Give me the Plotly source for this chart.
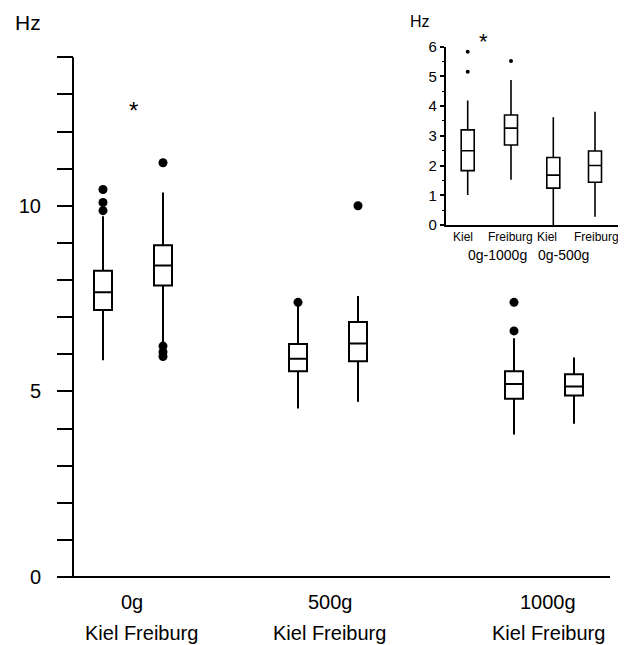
import plotly.graph_objects as go

# ---------------- data (main chart, Hz) ----------------
main_labels = ["0g Kiel", "0g Freiburg", "500g Kiel", "500g Freiburg", "1000g Kiel", "1000g Freiburg"]
main_q1 = [7.19, 7.85, 5.54, 5.81, 4.80, 4.89]
main_median = [7.67, 8.39, 5.88, 6.29, 5.20, 5.13]
main_q3 = [8.25, 8.94, 6.28, 6.87, 5.54, 5.46]
main_low = [5.84, 6.33, 4.54, 4.72, 3.84, 4.13]
main_high = [9.72, 10.36, 7.30, 7.57, 6.43, 5.91]
main_outliers = [[10.44, 10.09, 9.87], [11.16, 6.22, 6.06, 5.94], [7.40], [10.0], [7.40, 6.63], []]
main_groups = ["0g", "500g", "1000g"]
main_ytick_vals = list(range(0, 15))
main_ytick_text = ["0", "", "", "", "", "5", "", "", "", "", "10", "", "", "", ""]

# ---------------- data (inset, Hz) ----------------
inset_labels = ["Kiel", "Freiburg", "Kiel", "Freiburg"]
inset_groups = ["0g-1000g", "0g-500g"]
inset_q1 = [1.83, 2.69, 1.24, 1.44]
inset_median = [2.50, 3.26, 1.68, 2.00]
inset_q3 = [3.20, 3.70, 2.27, 2.49]
inset_low = [1.01, 1.52, 0.0, 0.28]
inset_high = [4.19, 4.88, 3.63, 3.81]
inset_outliers = [[5.83, 5.16], [5.52], [], []]
inset_ytick_vals = [0, 1, 2, 3, 4, 5, 6]

# ---------------- layout geometry (window pixels) ----------------
OFF = 8                                 # default page body margin
WIN_W, WIN_H = 626, 645
W, H = WIN_W - OFF, WIN_H - OFF
L, R, T, B = 70, 620, 40, 580           # plot area edges (window px)
AX0 = 73                                # main y-axis line x
Y0 = 577                                # main y = 0 pixel
PPU = 37.12                             # pixels per Hz (main)
main_pos = [30, 90, 225, 285, 441, 501] # px from main y-axis
main_box_w = 18
x_line_end = 537


def px(xp):
    return (xp - L) / (R - L)


def py(yp):
    return (B - yp) / (B - T)


in_left, in_right, in_bottom, in_top = 445.7, 620, 225, 46.7
inset_pos = [22, 65.3, 107.6, 149.3]
inset_box_w = 13
FONT = "Liberation Sans, Arial, sans-serif"

fig = go.Figure()

for i, name in enumerate(main_labels):
    fig.add_trace(go.Box(
        x=[main_pos[i]], q1=[main_q1[i]], median=[main_median[i]], q3=[main_q3[i]],
        lowerfence=[main_low[i]], upperfence=[main_high[i]],
        width=main_box_w, whiskerwidth=0, fillcolor="white",
        line=dict(color="black", width=2), boxpoints=False,
        name=name, showlegend=False, xaxis="x", yaxis="y", hoverinfo="skip"))
    if main_outliers[i]:
        fig.add_trace(go.Scatter(
            x=[main_pos[i]] * len(main_outliers[i]), y=main_outliers[i], mode="markers",
            marker=dict(color="black", size=9), showlegend=False, xaxis="x", yaxis="y",
            hoverinfo="skip"))

for i, name in enumerate(inset_labels):
    fig.add_trace(go.Box(
        x=[inset_pos[i]], q1=[inset_q1[i]], median=[inset_median[i]], q3=[inset_q3[i]],
        lowerfence=[inset_low[i]], upperfence=[inset_high[i]],
        width=inset_box_w, whiskerwidth=0, fillcolor="white",
        line=dict(color="black", width=1.6), boxpoints=False,
        name=name, showlegend=False, xaxis="x2", yaxis="y2", hoverinfo="skip"))
    if inset_outliers[i]:
        fig.add_trace(go.Scatter(
            x=[inset_pos[i]] * len(inset_outliers[i]), y=inset_outliers[i], mode="markers",
            marker=dict(color="black", size=4), showlegend=False, xaxis="x2", yaxis="y2",
            hoverinfo="skip"))


def label(text, x, y, size, yanchor="middle"):
    return dict(text=text, x=px(x), y=py(y), xref="paper", yref="paper",
                xanchor="center", yanchor=yanchor, showarrow=False,
                font=dict(size=size, color="black", family=FONT))


ann = []
ann.append(label("Hz", 28, 22.5, 21))
ann.append(label("*", 133, 95, 24, yanchor="top"))
grp_px = [131.7, 330, 548]
kf_px = [141.7, 329.5, 548]
for g, gx, kx in zip(main_groups, grp_px, kf_px):
    ann.append(label(g, gx, 602, 20))
    ann.append(label("Kiel Freiburg", kx, 633, 20))
ann.append(label("Hz", 419.5, 21.5, 16))
ann.append(label("*", 483.3, 26.5, 22, yanchor="top"))
inset_lab_px = [462.5, 511, 547, 596.5]
for lab, lx in zip(inset_labels, inset_lab_px):
    ann.append(label(lab, lx, 237, 12))
for g, gx in zip(inset_groups, [497, 563.3]):
    ann.append(label(g, gx, 255, 14))

shapes = [
    dict(type="line", xref="x", yref="y", x0=0, x1=0, y0=0, y1=14,
         line=dict(color="black", width=2)),
    dict(type="line", xref="x", yref="y", x0=0, x1=x_line_end, y0=0, y1=0,
         line=dict(color="black", width=2)),
]

fig.update_layout(
    width=W, height=H,
    margin=dict(l=L - OFF, r=W - (R - OFF), t=T - OFF, b=H - (B - OFF), pad=0),
    paper_bgcolor="white", plot_bgcolor="rgba(0,0,0,0)",
    font=dict(family=FONT, color="black"),
    showlegend=False,
    xaxis=dict(domain=[0, 1], range=[L - AX0, R - AX0], showline=False, showticklabels=False,
               ticks="", showgrid=False, zeroline=False, fixedrange=True),
    yaxis=dict(domain=[0, 1], range=[(Y0 - B) / PPU, (Y0 - T) / PPU], anchor="free",
               position=(AX0 - L) / (R - L),
               tickvals=main_ytick_vals, ticktext=main_ytick_text,
               ticks="outside", ticklen=16, tickwidth=2, tickcolor="black",
               ticklabelstandoff=12,
               tickfont=dict(size=20, color="black", family=FONT),
               showline=False, showgrid=False, zeroline=False, fixedrange=True),
    xaxis2=dict(domain=[px(in_left), px(in_right)], range=[0, in_right - in_left],
                anchor="y2", showline=True, linecolor="black", linewidth=1.6,
                showticklabels=False, ticks="", showgrid=False, zeroline=False),
    yaxis2=dict(domain=[py(in_bottom), py(in_top)], range=[0, 6], anchor="x2",
                showline=True, linecolor="black", linewidth=1.6,
                tickvals=inset_ytick_vals, ticks="outside", ticklen=4, tickwidth=1.5,
                tickcolor="black", ticklabelstandoff=0,
                tickfont=dict(size=15, color="black", family=FONT),
                minor=dict(dtick=0.5, ticks="outside", ticklen=2, tickwidth=1, tickcolor="black"),
                showgrid=False, zeroline=False),
    annotations=ann,
    shapes=shapes,
)

fig.write_html("out.html")
